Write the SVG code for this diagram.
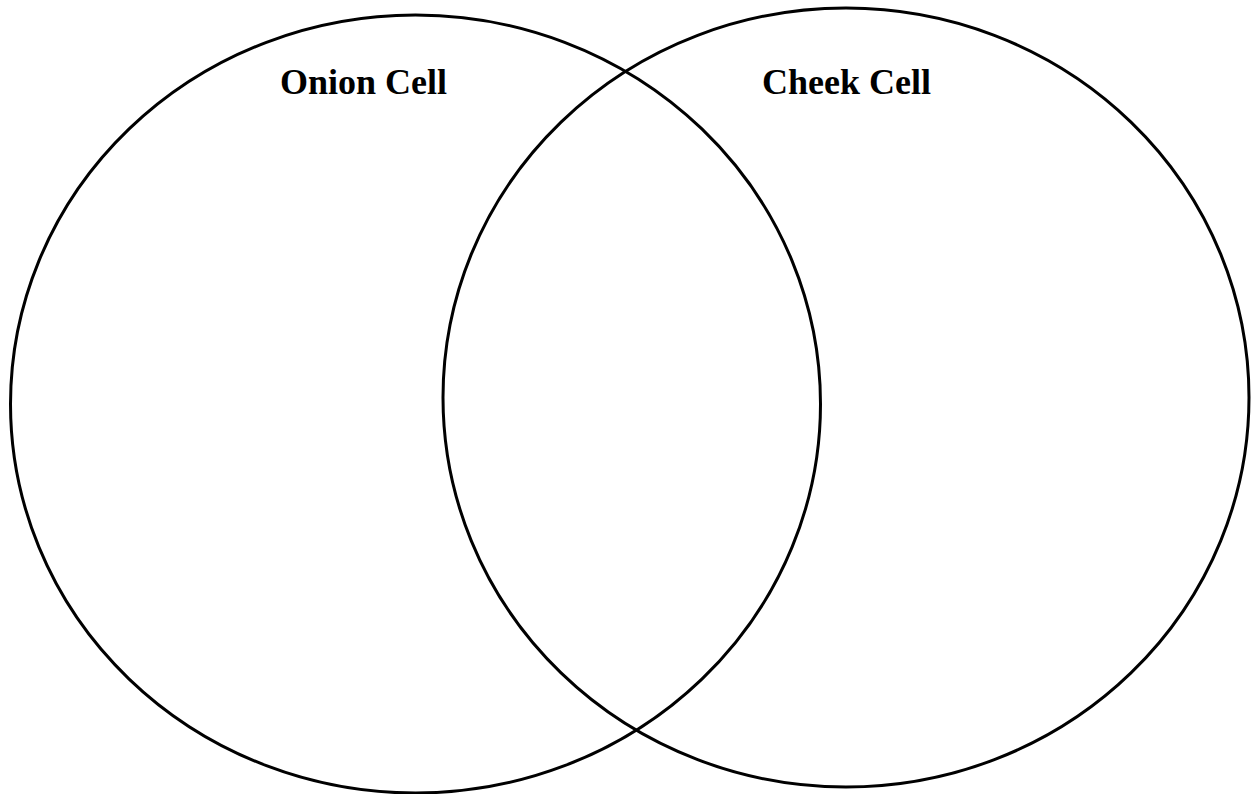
<svg xmlns="http://www.w3.org/2000/svg" width="1253" height="794" viewBox="0 0 1253 794">
<style>
.c{fill:none;stroke:#000;stroke-width:3}
.t{font-family:"Liberation Serif",serif;font-weight:bold;font-size:36px;fill:#000}
</style>
<rect width="1253" height="794" fill="#fff"/>
<g id="onion">
<ellipse class="c" cx="415.5" cy="404" rx="405" ry="389"/>
<text class="t" x="280" y="94">Onion Cell</text>
</g>
<g id="cheek">
<ellipse class="c" cx="846" cy="397.5" rx="403" ry="389.5"/>
<text class="t" x="762" y="94">Cheek Cell</text>
</g>
<g id="connectors"></g>
</svg>
